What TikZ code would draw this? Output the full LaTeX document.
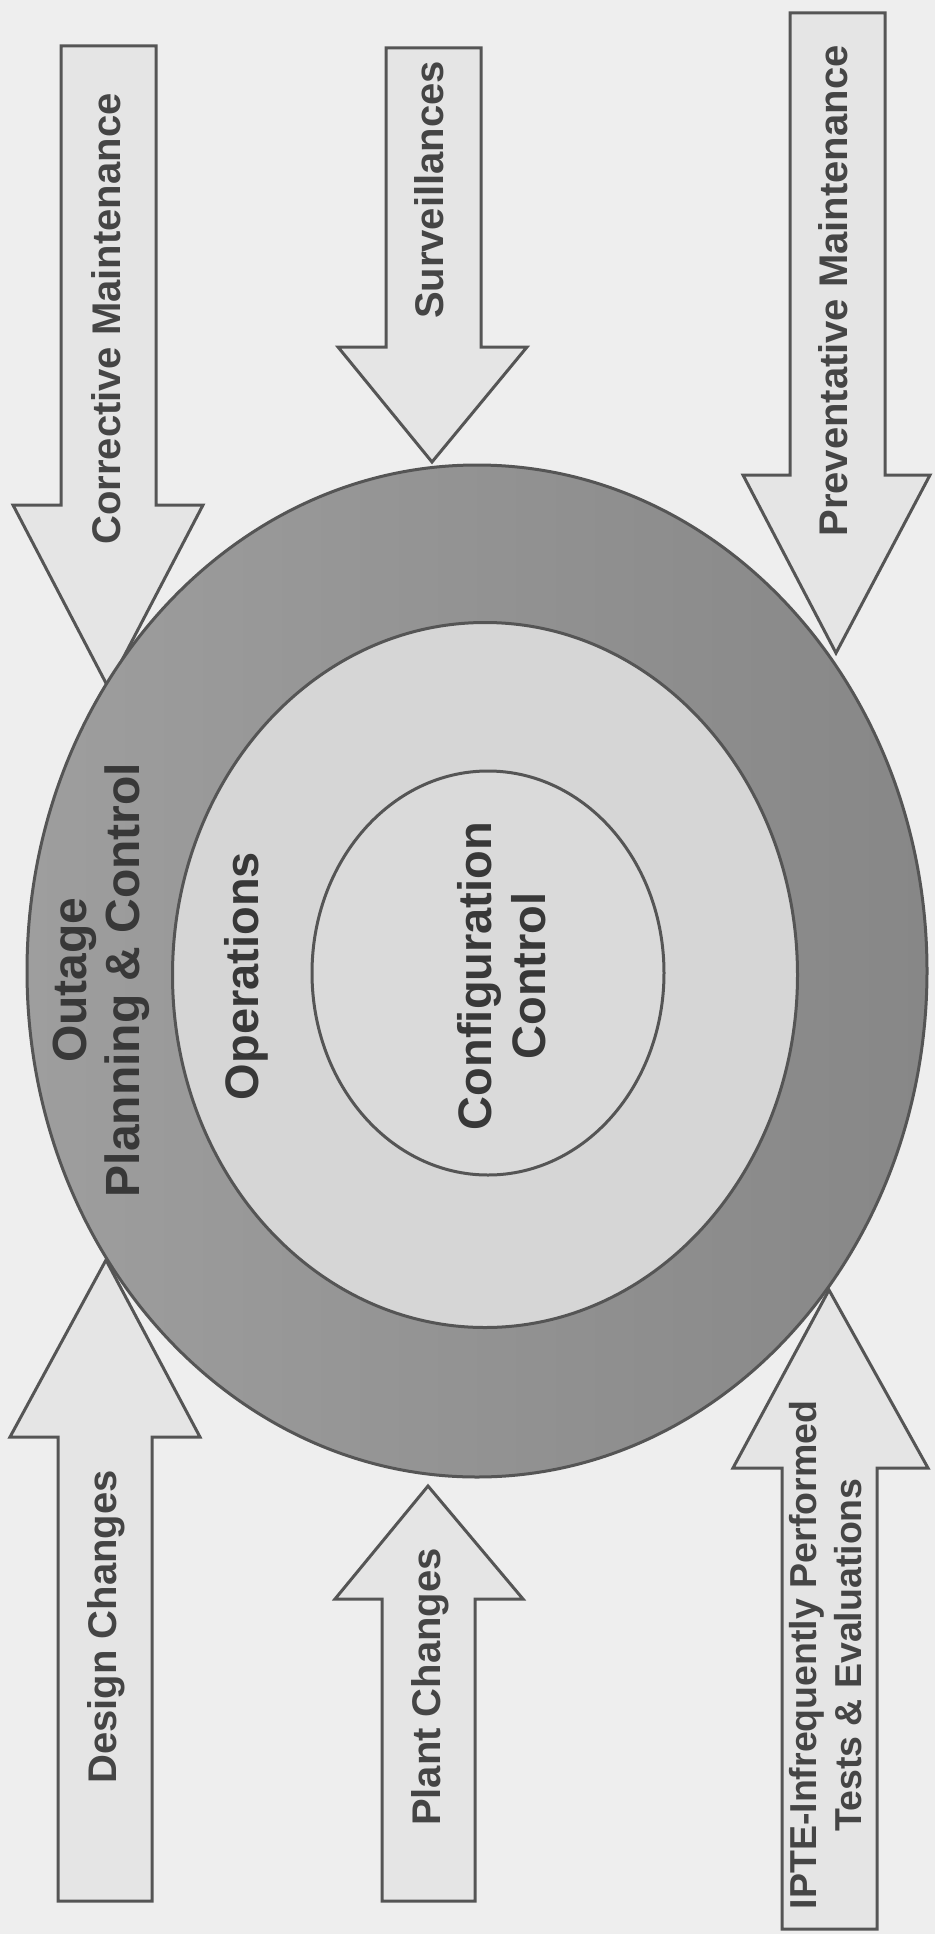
\documentclass[tikz,border=0pt]{standalone}
\usepackage{fontspec}
\setmainfont{Liberation Sans}
\usetikzlibrary{shapes.geometric}
\definecolor{bgc}{HTML}{EEEEEE}
\definecolor{arrowfill}{HTML}{E5E5E5}
\definecolor{linec}{HTML}{555555}
\definecolor{ringL}{HTML}{9E9E9E}
\definecolor{ringR}{HTML}{878787}
\definecolor{midfill}{HTML}{D6D6D6}
\definecolor{innerfill}{HTML}{DADADA}
\definecolor{txt}{HTML}{454545}
\definecolor{txtdark}{HTML}{383838}
\begin{document}
\begin{tikzpicture}[x=1pt,y=-1pt,
  blockarrow/.style={fill=arrowfill,draw=linec,line width=3pt,line join=miter},
  ring/.style={ellipse,inner sep=0pt,outer sep=0pt,draw=linec,line width=3pt},
  arrowtext/.style={rotate=90,text=txt,inner sep=0pt,align=center,
    font=\fontsize{40}{44}\selectfont\bfseries},
  ringtext/.style={rotate=90,text=txtdark,inner sep=0pt,align=center,
    font=\fontsize{47}{54}\selectfont\bfseries}]
\useasboundingbox (0,0) rectangle (935,1934);
\fill[bgc] (0,0) rectangle (935,1934);

% downward arrows
\draw[blockarrow] (61,46) -- (156,46) -- (156,505) -- (203,505) -- (108,687) -- (13,505) -- (61,505) -- cycle;
\draw[blockarrow] (386,48) -- (481,48) -- (481,347) -- (527,347) -- (432,462) -- (338,347) -- (386,347) -- cycle;
\draw[blockarrow] (790,13) -- (885,13) -- (885,475) -- (930,475) -- (836,653) -- (743,475) -- (790,475) -- cycle;
% upward arrows
\draw[blockarrow] (58,1901) -- (152,1901) -- (152,1437) -- (200,1437) -- (106,1260) -- (10,1437) -- (58,1437) -- cycle;
\draw[blockarrow] (382,1901) -- (475,1901) -- (475,1599) -- (523,1599) -- (428,1486) -- (335,1599) -- (382,1599) -- cycle;
\draw[blockarrow] (782,1929) -- (877,1929) -- (877,1468) -- (928,1468) -- (829,1290) -- (733,1468) -- (782,1468) -- cycle;

% nested ellipses
\node[ring,left color=ringL,right color=ringR,minimum width=900pt,minimum height=1012pt] (outer) at (477,971) {};
\node[ring,fill=midfill,minimum width=625pt,minimum height=705pt] (middle) at (485,975) {};
\node[ring,fill=innerfill,minimum width=352pt,minimum height=404pt] (inner) at (488,973) {};

% labels
\node[arrowtext] (tcm) at (106,319) {Corrective Maintenance};
\node[arrowtext] (tsv) at (429,190) {Surveillances};
\node[arrowtext] (tpm) at (833,291) {Preventative Maintenance};
\node[arrowtext] (tdc) at (106,1627) {Design Changes};
\node[arrowtext] (tpc) at (430,1687) {Plant Changes};
\node[arrowtext,font=\fontsize{37.5}{45}\selectfont\bfseries] (tip) at (826,1655) {IPTE-Infrequently Performed\\Tests \& Evaluations};
\node[ringtext,font=\fontsize{48}{53}\selectfont\bfseries] (tout) at (101,980) {Outage\\Planning \& Control};
\node[ringtext] (top) at (246,976) {Operations};
\node[ringtext] (tcc) at (502,976) {Configuration\\Control};
\end{tikzpicture}
\end{document}
